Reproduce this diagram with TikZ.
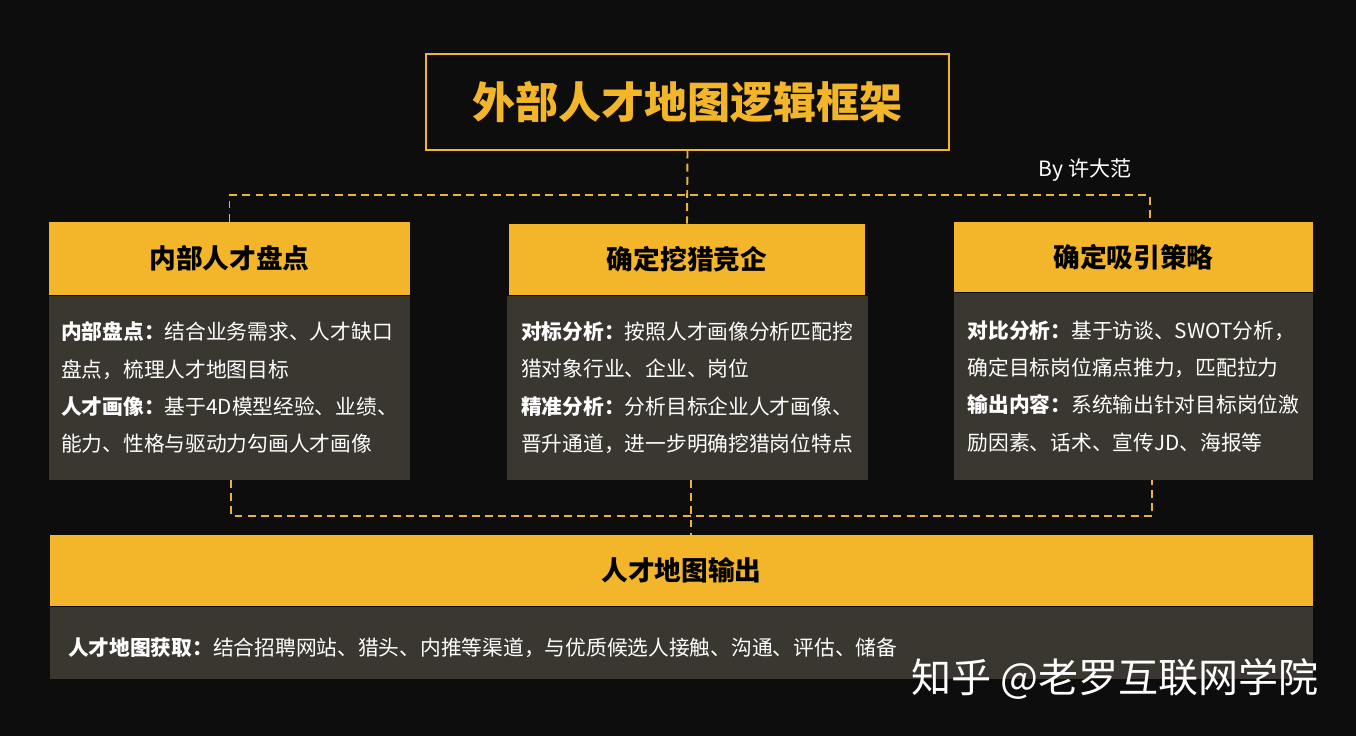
\documentclass[tikz,border=0pt]{standalone}
\usepackage{fontspec}
\setmainfont{Noto Sans CJK SC}
\usetikzlibrary{positioning}
\definecolor{fond}{HTML}{0D0D0D}
\definecolor{jaune}{HTML}{F3B62A}
\definecolor{gris}{HTML}{3A3730}
\definecolor{trait}{HTML}{E8B43E}

\begin{document}
\begin{tikzpicture}[x=0.02cm,y=-0.02cm]
   \def\px{0.02cm}
    \tikzstyle{titre}=[draw=jaune,line width=0.6pt,minimum width=523*\px,minimum height=96*\px,text=jaune,font=\fontsize{24.5}{28}\selectfont\bfseries]
    \tikzstyle{entete}=[fill=jaune,inner sep=0pt,text=black,font=\fontsize{15.2}{18}\selectfont\bfseries]
    \tikzstyle{contenu}=[fill=gris,inner sep=0pt,text=white,align=left,font=\fontsize{11.8}{21.3}\selectfont]
    \tikzstyle{lien}=[trait,line width=1.1pt,dash pattern=on 4.5pt off 3pt]
    \tikzstyle{blanc}=[text=white,inner sep=0pt]

% Fond
\fill[fond] (0,0) rectangle (1356,736);

% Titre
\node[titre] (T) at (687.5,102) {外部人才地图逻辑框架};
\node[blanc,font=\fontsize{12}{14}\selectfont] (A) at (1085,170) {By 许大范};

% Colonnes
\node[entete,minimum width=361*\px,minimum height=73*\px] (H-1) at (229.5,258.5) {内部人才盘点};
\node[entete,minimum width=356*\px,minimum height=71*\px] (H-2) at (687,259.5) {确定挖猎竞企};
\node[entete,minimum width=359*\px,minimum height=70*\px] (H-3) at (1133.5,257) {确定吸引策略};

\node[contenu,minimum width=361*\px,minimum height=184*\px,below=0pt of H-1] (C-1)
  {\textbf{内部盘点：}结合业务需求、人才缺口\\盘点，梳理人才地图目标\\\textbf{人才画像：}基于4D模型经验、业绩、\\能力、性格与驱动力勾画人才画像};
\node[contenu,minimum width=361*\px,minimum height=184*\px,below=0pt of H-2] (C-2)
  {\textbf{对标分析：}按照人才画像分析匹配挖\\猎对象行业、企业、岗位\\\textbf{精准分析：}分析目标企业人才画像、\\晋升通道，进一步明确挖猎岗位特点};
\node[contenu,minimum width=359*\px,minimum height=187*\px,below=0pt of H-3] (C-3)
  {\textbf{对比分析：}基于访谈、SWOT分析，\\确定目标岗位痛点推力，匹配拉力\\\textbf{输出内容：}系统输出针对目标岗位激\\励因素、话术、宣传JD、海报等};

% Sortie
\node[entete,minimum width=1263*\px,minimum height=71*\px] (S) at (681.5,570.5) {人才地图输出};
\node[contenu,minimum width=1263*\px,minimum height=72*\px,text width=1227*\px,text height=17pt,text depth=3pt,below=0pt of S] (SC)
  {\textbf{人才地图获取：}结合招聘网站、猎头、内推等渠道，与优质候选人接触、沟通、评估、储备};

\node[blanc,anchor=west,font=\fontsize{22.8}{26}\selectfont] (W) at (911,679) {知乎 @老罗互联网学院};

% Liens
\coordinate (B-3) at (1150,195);
\draw[lien] (T.south) -- (H-2.north);
\draw[lien] (H-1.north) |- (B-3) -- (B-3 |- H-3.north);

\coordinate (D-1) at (231,516);
\coordinate (D-2) at (691,516);
\coordinate (D-3) at (1152,516);
\draw[lien] (D-1 |- C-1.south) -- (D-1) -- (D-3) -- (D-3 |- C-3.south);
\draw[lien] (D-2 |- C-2.south) -- (D-2 |- S.north);

\end{tikzpicture}
\end{document}
